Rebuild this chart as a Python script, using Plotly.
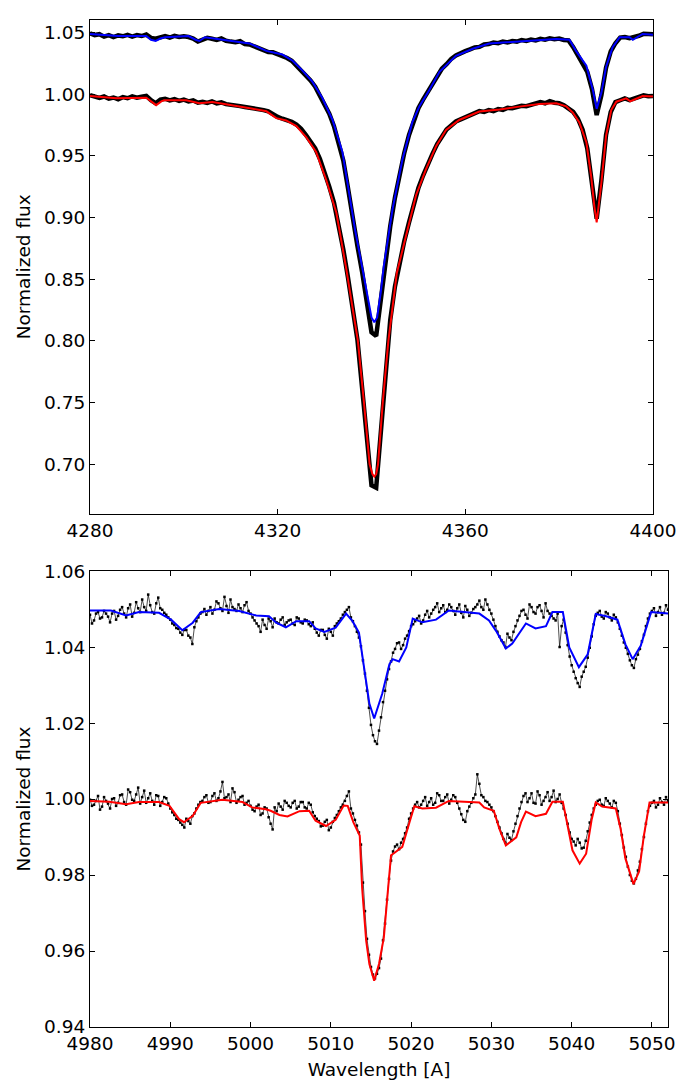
import numpy as np
import plotly.graph_objects as go

# ---------------- Top panel (H gamma region) ----------------
top_obs_start = 4280.0  # observed spectra sampled every 1 A
top_obs_upper = [
    1.0492, 1.0478, 1.0485, 1.0465, 1.0478, 1.0462, 1.0475, 1.0468, 1.0480, 1.0465,
    1.0478, 1.0470, 1.0482, 1.0455, 1.0448, 1.0460, 1.0470, 1.0458, 1.0472, 1.0462,
    1.0468, 1.0462, 1.0450, 1.0425, 1.0440, 1.0455, 1.0448, 1.0438, 1.0450, 1.0432,
    1.0425, 1.0420, 1.0428, 1.0405, 1.0402, 1.0385, 1.0368, 1.0358, 1.0340, 1.0338,
    1.0322, 1.0315, 1.0292, 1.0270, 1.0232, 1.0195, 1.0152, 1.0110, 1.0060, 0.9990,
    0.9915, 0.9840, 0.9740, 0.9615, 0.9460, 0.9235, 0.8990, 0.8770, 0.8560, 0.8300,
    0.8070, 0.8040, 0.8330, 0.8660, 0.8930, 0.9160, 0.9345, 0.9525, 0.9668, 0.9792,
    0.9885, 0.9955, 1.0015, 1.0085, 1.0150, 1.0205, 1.0242, 1.0285, 1.0312, 1.0335,
    1.0348, 1.0362, 1.0378, 1.0382, 1.0402, 1.0405, 1.0418, 1.0412, 1.0425, 1.0418,
    1.0430, 1.0425, 1.0438, 1.0430, 1.0442, 1.0435, 1.0448, 1.0440, 1.0452, 1.0445,
    1.0450, 1.0438, 1.0435, 1.0380, 1.0315, 1.0262, 1.0180, 1.0040, 0.9830, 0.9990,
    1.0215, 1.0345, 1.0412, 1.0458, 1.0462, 1.0452, 1.0458, 1.0472, 1.0488, 1.0482,
    1.0485,
]
top_obs_lower = [
    0.9990, 0.9975, 0.9968, 0.9980, 0.9962, 0.9972, 0.9958, 0.9975, 0.9966, 0.9982,
    0.9970, 0.9978, 0.9985, 0.9950, 0.9925, 0.9955, 0.9962, 0.9948, 0.9958, 0.9944,
    0.9955, 0.9940, 0.9948, 0.9930, 0.9938, 0.9928, 0.9940, 0.9925, 0.9932, 0.9918,
    0.9915, 0.9908, 0.9902, 0.9895, 0.9890, 0.9885, 0.9875, 0.9870, 0.9860, 0.9835,
    0.9815, 0.9800, 0.9792, 0.9775, 0.9752, 0.9718, 0.9670, 0.9622, 0.9560, 0.9475,
    0.9370, 0.9250, 0.9120, 0.8950, 0.8740, 0.8510, 0.8270, 0.8010, 0.7620, 0.7180,
    0.6830, 0.6810, 0.7260, 0.7720, 0.8170, 0.8440, 0.8650, 0.8810, 0.8960, 0.9110,
    0.9240, 0.9340, 0.9440, 0.9515, 0.9595, 0.9655, 0.9712, 0.9745, 0.9778, 0.9795,
    0.9812, 0.9832, 0.9845, 0.9862, 0.9855, 0.9870, 0.9862, 0.9878, 0.9872, 0.9888,
    0.9885, 0.9898, 0.9905, 0.9902, 0.9915, 0.9920, 0.9935, 0.9925, 0.9942, 0.9930,
    0.9925, 0.9910, 0.9885, 0.9855, 0.9800, 0.9710, 0.9560, 0.9270, 0.8990, 0.9300,
    0.9670, 0.9855, 0.9935, 0.9950, 0.9965, 0.9950, 0.9962, 0.9978, 0.9990, 0.9982,
    0.9985,
]

top_model_upper_wl = [
    4280, 4286, 4292, 4293, 4294, 4295, 4296, 4301, 4302.5, 4303.3, 4304.5, 4310.4,
    4314, 4317.6, 4321, 4323.2, 4325.3, 4327.4, 4329.5, 4331.7, 4333.8, 4335.1,
    4336.5, 4338.0, 4339.3, 4340.0, 4340.6, 4341.2, 4342.0, 4342.6, 4344.5, 4346.6,
    4348.7, 4350.2, 4352.3, 4354.5, 4358, 4361.6, 4365.1, 4368.7, 4372.2, 4375.8,
    4379.4, 4382.2, 4383.6, 4385.8, 4387.2, 4388.0, 4389.0, 4390.0, 4391.4, 4392.9,
    4395.0, 4395.7, 4396.5, 4397.8, 4400,
]
top_model_upper = [
    1.0487, 1.047, 1.047, 1.044, 1.043, 1.045, 1.046, 1.047, 1.044, 1.043, 1.046, 1.043,
    1.041, 1.035, 1.032, 1.027, 1.019, 1.010, 0.997, 0.979, 0.953, 0.923,
    0.890, 0.860, 0.832, 0.819, 0.815, 0.819, 0.840, 0.860, 0.907, 0.947,
    0.977, 0.990, 1.003, 1.018, 1.031, 1.0367, 1.041, 1.042, 1.043, 1.044,
    1.0447, 1.044, 1.035, 1.023, 1.003, 0.988, 1.001, 1.022, 1.038, 1.046,
    1.046, 1.044, 1.046, 1.0487, 1.048,
]
top_model_lower_wl = [
    4280, 4285.6, 4292, 4293, 4294.1, 4295.2, 4295.8, 4300.5, 4303.3, 4306.1, 4310.4,
    4314.7, 4317.6, 4319.7, 4321.8, 4324, 4326.1, 4328.2, 4330.3, 4332.5, 4334.6,
    4335.8, 4337.1, 4338.4, 4339.6, 4340.2, 4340.6, 4341.0, 4341.4, 4342.4, 4343.6,
    4345.4, 4347.4, 4349.5, 4351.6, 4353.8, 4355.9, 4358.7, 4363, 4367.3, 4371.5,
    4375.8, 4379.4, 4381.5, 4382.9, 4384.3, 4385.8, 4386.8, 4387.5, 4388.0, 4389.0,
    4390.0, 4391.1, 4392.2, 4394.3, 4395.2, 4395.7, 4397.8, 4400,
]
top_model_lower = [
    0.9984, 0.9965, 0.997, 0.994, 0.991, 0.994, 0.995, 0.995, 0.9925, 0.9935, 0.991,
    0.988, 0.986, 0.9805, 0.9786, 0.974, 0.965, 0.953, 0.931, 0.904, 0.859,
    0.832, 0.800, 0.750, 0.700, 0.692, 0.690, 0.692, 0.700, 0.750, 0.800,
    0.855, 0.885, 0.918, 0.939, 0.958, 0.971, 0.979, 0.9858, 0.9875, 0.9898,
    0.992, 0.9925, 0.990, 0.985, 0.977, 0.961, 0.934, 0.909, 0.896, 0.928,
    0.966, 0.987, 0.9938, 0.9965, 0.994, 0.995, 0.9984, 0.998,
]

# ---------------- Bottom panel (He I 5016 region) ----------------
# observed spectra: set "a" at 4980.0 + 0.5*i, set "b" at 4980.25 + 0.5*i
bot_obs_start = 4980.0
bot_obs_upper_a = [
    1.0485, 1.0470, 1.0492, 1.0478, 1.0488, 1.0465, 1.0495, 1.0482, 1.0505, 1.0478,
    1.0512, 1.0490, 1.0502, 1.0525, 1.0495, 1.0510, 1.0488, 1.0530, 1.0498, 1.0485,
    1.0472, 1.0458, 1.0448, 1.0432, 1.0445, 1.0425, 1.0452, 1.0478, 1.0492, 1.0485,
    1.0505, 1.0498, 1.0515, 1.0495, 1.0508, 1.0525, 1.0500, 1.0512, 1.0492, 1.0518,
    1.0488, 1.0470, 1.0455, 1.0472, 1.0448, 1.0468, 1.0475, 1.0462, 1.0478, 1.0465,
    1.0472, 1.0458, 1.0475, 1.0462, 1.0470, 1.0455, 1.0448, 1.0430, 1.0445, 1.0422,
    1.0440, 1.0455, 1.0468, 1.0485, 1.0498, 1.0478, 1.0455, 1.0425, 1.0365, 1.0285,
    1.0195, 1.0152, 1.0180, 1.0255, 1.0315, 1.0362, 1.0395, 1.0412, 1.0405, 1.0430,
    1.0455, 1.0468, 1.0482, 1.0470, 1.0495, 1.0488, 1.0505, 1.0492, 1.0510, 1.0498,
    1.0505, 1.0485, 1.0512, 1.0478, 1.0498, 1.0490, 1.0505, 1.0522, 1.0498, 1.0512,
    1.0488, 1.0455, 1.0428, 1.0412, 1.0435, 1.0418, 1.0455, 1.0482, 1.0498, 1.0475,
    1.0505, 1.0488, 1.0510, 1.0478, 1.0495, 1.0482, 1.0470, 1.0400, 1.0472, 1.0405,
    1.0352, 1.0318, 1.0295, 1.0335, 1.0372, 1.0428, 1.0482, 1.0495, 1.0475, 1.0488,
    1.0470, 1.0478, 1.0448, 1.0412, 1.0382, 1.0352, 1.0368, 1.0395, 1.0432, 1.0475,
    1.0495, 1.0482, 1.0505, 1.0490, 1.0498,
]
bot_obs_upper_b = [
    1.0462, 1.0488, 1.0475, 1.0495, 1.0480, 1.0488, 1.0472, 1.0498, 1.0488, 1.0502,
    1.0480, 1.0518, 1.0492, 1.0505, 1.0538, 1.0492, 1.0515, 1.0502, 1.0490, 1.0478,
    1.0462, 1.0450, 1.0438, 1.0445, 1.0430, 1.0408, 1.0468, 1.0488, 1.0500, 1.0495,
    1.0488, 1.0520, 1.0502, 1.0532, 1.0490, 1.0505, 1.0495, 1.0502, 1.0510, 1.0495,
    1.0478, 1.0462, 1.0440, 1.0458, 1.0475, 1.0452, 1.0465, 1.0472, 1.0458, 1.0470,
    1.0462, 1.0478, 1.0465, 1.0472, 1.0460, 1.0465, 1.0438, 1.0445, 1.0432, 1.0448,
    1.0430, 1.0462, 1.0475, 1.0492, 1.0505, 1.0468, 1.0440, 1.0402, 1.0330, 1.0240,
    1.0168, 1.0145, 1.0215, 1.0285, 1.0342, 1.0385, 1.0410, 1.0395, 1.0422, 1.0442,
    1.0460, 1.0475, 1.0462, 1.0485, 1.0478, 1.0498, 1.0515, 1.0502, 1.0492, 1.0512,
    1.0495, 1.0502, 1.0490, 1.0508, 1.0482, 1.0500, 1.0512, 1.0505, 1.0525, 1.0498,
    1.0472, 1.0440, 1.0418, 1.0400, 1.0425, 1.0440, 1.0470, 1.0495, 1.0485, 1.0512,
    1.0492, 1.0505, 1.0495, 1.0515, 1.0488, 1.0475, 1.0488, 1.0455, 1.0438, 1.0375,
    1.0335, 1.0305, 1.0322, 1.0348, 1.0398, 1.0460, 1.0490, 1.0480, 1.0492, 1.0478,
    1.0485, 1.0465, 1.0430, 1.0398, 1.0365, 1.0345, 1.0380, 1.0415, 1.0455, 1.0488,
    1.0502, 1.0492, 1.0485, 1.0510,
]
bot_obs_lower_a = [
    0.9998, 0.9985, 1.0008, 0.9980, 0.9995, 0.9975, 1.0002, 0.9990, 1.0012, 0.9985,
    1.0018, 0.9995, 1.0030, 1.0005, 0.9990, 1.0015, 0.9985, 1.0008, 0.9992, 1.0002,
    0.9975, 0.9958, 0.9945, 0.9932, 0.9948, 0.9935, 0.9962, 0.9985, 0.9995, 1.0010,
    0.9992, 1.0015, 1.0002, 1.0045, 1.0005, 0.9992, 1.0018, 0.9998, 1.0008, 0.9990,
    0.9982, 0.9968, 0.9985, 0.9962, 0.9975, 0.9935, 0.9978, 0.9988, 0.9972, 0.9990,
    0.9978, 0.9995, 0.9980, 0.9992, 0.9975, 0.9985, 0.9955, 0.9942, 0.9930, 0.9945,
    0.9925, 0.9950, 0.9968, 0.9985, 1.0008, 0.9975, 0.9945, 0.9912, 0.9780, 0.9632,
    0.9558, 0.9528, 0.9555, 0.9628, 0.9735, 0.9838, 0.9875, 0.9868, 0.9895, 0.9925,
    0.9962, 0.9985, 0.9978, 0.9995, 0.9982, 1.0002, 0.9990, 1.0010, 0.9995, 1.0012,
    0.9998, 1.0005, 0.9975, 0.9945, 0.9968, 0.9990, 1.0012, 1.0040, 1.0005, 0.9992,
    0.9978, 0.9955, 0.9925, 0.9895, 0.9908, 0.9892, 0.9935, 0.9975, 1.0008, 0.9992,
    1.0015, 0.9988, 1.0010, 0.9995, 1.0018, 1.0005, 0.9992, 1.0012, 0.9975, 0.9935,
    0.9895, 0.9878, 0.9885, 0.9872, 0.9915, 0.9958, 0.9985, 0.9998, 0.9982, 0.9995,
    0.9978, 0.9990, 0.9935, 0.9872, 0.9822, 0.9785, 0.9790, 0.9835, 0.9900, 0.9968,
    0.9990, 0.9978, 1.0002, 0.9985, 0.9995,
]
bot_obs_lower_b = [
    0.9982, 0.9995, 0.9972, 1.0005, 0.9988, 1.0000, 0.9982, 1.0010, 0.9992, 1.0025,
    0.9998, 1.0012, 0.9988, 1.0022, 1.0002, 0.9995, 1.0010, 0.9982, 1.0005, 0.9988,
    0.9965, 0.9948, 0.9938, 0.9925, 0.9942, 0.9955, 0.9975, 0.9992, 1.0005, 0.9990,
    1.0008, 0.9995, 1.0020, 1.0002, 1.0012, 1.0028, 0.9990, 1.0005, 0.9985, 0.9995,
    0.9972, 0.9980, 0.9958, 0.9978, 0.9952, 0.9920, 0.9968, 0.9980, 0.9995, 0.9982,
    0.9990, 0.9975, 0.9992, 0.9978, 0.9990, 0.9965, 0.9948, 0.9928, 0.9940, 0.9918,
    0.9940, 0.9958, 0.9978, 0.9995, 1.0020, 0.9962, 0.9930, 0.9880, 0.9705, 0.9590,
    0.9538, 0.9540, 0.9580, 0.9672, 0.9790, 0.9862, 0.9880, 0.9885, 0.9910, 0.9948,
    0.9975, 0.9992, 0.9985, 1.0005, 0.9992, 0.9985, 1.0015, 0.9995, 1.0005, 0.9988,
    1.0010, 0.9990, 0.9960, 0.9940, 0.9980, 1.0002, 1.0065, 1.0010, 0.9995, 0.9985,
    0.9968, 0.9940, 0.9910, 0.9885, 0.9898, 0.9915, 0.9955, 0.9992, 1.0015, 1.0002,
    0.9990, 1.0020, 0.9985, 1.0005, 0.9995, 1.0022, 1.0000, 0.9990, 0.9958, 0.9912,
    0.9888, 0.9895, 0.9870, 0.9890, 0.9938, 0.9975, 0.9995, 0.9985, 1.0002, 0.9988,
    0.9995, 0.9968, 0.9905, 0.9848, 0.9800, 0.9778, 0.9812, 0.9868, 0.9935, 0.9982,
    0.9995, 0.9985, 0.9992, 1.0005,
]

bot_model_upper_wl = [
    4980, 4982.6, 4984.5, 4986.1, 4988.6, 4990.1, 4991.5, 4992.8, 4993.8, 4996.1,
    4998.6, 4999.4, 5000.7, 5002.3, 5003.2, 5004.4, 5005.7, 5007.3, 5008.1, 5009.2,
    5010.6, 5011.9, 5012.7, 5013.5, 5014.4, 5014.8, 5015.4, 5016.4, 5017.3, 5017.7,
    5018.5, 5019.4, 5020.2, 5021.4, 5023.1, 5024.7, 5028.5, 5029.7, 5030.6, 5031.8,
    5032.6, 5034.3, 5035.5, 5036.8, 5037.6, 5038.9, 5039.7, 5040.9, 5042.0, 5043.0,
    5044.3, 5045.7, 5046.7, 5047.6, 5048.6, 5049.9, 5052,
]
bot_model_upper = [
    1.0496, 1.0496, 1.0483, 1.0492, 1.0490, 1.0472, 1.0444, 1.0464, 1.0492, 1.0500,
    1.0495, 1.0490, 1.0483, 1.0481, 1.0464, 1.0452, 1.0468, 1.0468, 1.0449, 1.0440,
    1.0451, 1.0488, 1.0468, 1.0438, 1.0312, 1.0251, 1.0212, 1.0277, 1.0355, 1.0368,
    1.0362, 1.0399, 1.0475, 1.0465, 1.0472, 1.0496, 1.0488, 1.0470, 1.0442, 1.0396,
    1.0409, 1.0462, 1.0449, 1.0455, 1.0492, 1.0492, 1.0399, 1.0347, 1.0381, 1.0487,
    1.0481, 1.0472, 1.0407, 1.0368, 1.0403, 1.0492, 1.0488,
]
bot_model_lower_wl = [
    4980, 4982.4, 4984.5, 4986.1, 4988.6, 4989.9, 4991.1, 4991.7, 4992.8, 4993.8,
    4996.5, 4999.0, 5000.2, 5001.9, 5002.5, 5003.6, 5004.6, 5006.1, 5007.3, 5008.1,
    5009.4, 5010.6, 5011.6, 5012.1, 5012.8, 5013.6, 5013.9, 5014.4, 5014.8, 5015.4,
    5016.0, 5016.6, 5017.1, 5017.5, 5017.9, 5018.9, 5019.8, 5020.4, 5021.4, 5023.1,
    5024.7, 5028.5, 5029.1, 5030.3, 5031.0, 5031.8, 5033.1, 5033.7, 5034.3, 5035.5,
    5036.8, 5037.6, 5038.9, 5039.5, 5040.1, 5041.0, 5041.8, 5042.5, 5043.0, 5043.8,
    5045.5, 5046.1, 5046.7, 5047.7, 5048.4, 5049.0, 5049.7, 5052,
]
bot_model_lower = [
    0.9995, 0.9993, 0.9986, 0.9992, 0.9992, 0.9982, 0.9947, 0.9939, 0.9956, 0.9990,
    0.9998, 0.9992, 0.9978, 0.9973, 0.9969, 0.9958, 0.9954, 0.9968, 0.9969, 0.9943,
    0.9929, 0.9945, 0.9983, 0.9982, 0.9939, 0.9904, 0.9765, 0.9627, 0.9566, 0.9522,
    0.9566, 0.9635, 0.9757, 0.9852, 0.9858, 0.9874, 0.9939, 0.9981, 0.9975, 0.9977,
    0.9995, 0.9991, 0.9978, 0.9969, 0.9921, 0.9878, 0.9899, 0.9939, 0.9967, 0.9955,
    0.9961, 0.9993, 0.9993, 0.9930, 0.9865, 0.9830, 0.9856, 0.9947, 0.9991, 0.9980,
    0.9975, 0.9921, 0.9843, 0.9776, 0.9809, 0.9904, 0.9991, 0.9991,
]

top_x_ticks = [4280, 4320, 4360, 4400]
top_y_ticks = [0.70, 0.75, 0.80, 0.85, 0.90, 0.95, 1.00, 1.05]
bot_x_ticks = [4980, 4990, 5000, 5010, 5020, 5030, 5040, 5050]
bot_y_ticks = [0.94, 0.96, 0.98, 1.00, 1.02, 1.04, 1.06]

# ------------------------------------------------------------
top_wl = top_obs_start + 1.0 * np.arange(len(top_obs_upper))


def interleave(a, b):
    wl_a = bot_obs_start + 0.5 * np.arange(len(a))
    wl_b = bot_obs_start + 0.25 + 0.5 * np.arange(len(b))
    wl = np.concatenate([wl_a, wl_b])
    fl = np.concatenate([np.asarray(a), np.asarray(b)])
    order = np.argsort(wl)
    return wl[order], fl[order]


bot_wl_u, bot_fl_u = interleave(bot_obs_upper_a, bot_obs_upper_b)
bot_wl_l, bot_fl_l = interleave(bot_obs_lower_a, bot_obs_lower_b)

FONT = "DejaVu Sans"
FS = 18.5
fig = go.Figure()

# top panel
for obs in (top_obs_upper, top_obs_lower):
    fig.add_trace(go.Scatter(x=top_wl, y=obs, mode="lines",
                             line=dict(color="black", width=4.5),
                             xaxis="x", yaxis="y", hoverinfo="skip"))
fig.add_trace(go.Scatter(x=top_model_upper_wl, y=top_model_upper, mode="lines",
                         line=dict(color="#0000ff", width=2), xaxis="x", yaxis="y"))
fig.add_trace(go.Scatter(x=top_model_lower_wl, y=top_model_lower, mode="lines",
                         line=dict(color="#ff0000", width=2), xaxis="x", yaxis="y"))

# bottom panel
for wl, fl in ((bot_wl_u, bot_fl_u), (bot_wl_l, bot_fl_l)):
    fig.add_trace(go.Scatter(x=wl, y=fl, mode="lines+markers",
                             line=dict(color="black", width=0.7),
                             marker=dict(color="black", size=2.5, symbol="square"),
                             xaxis="x2", yaxis="y2", hoverinfo="skip"))
fig.add_trace(go.Scatter(x=bot_model_upper_wl, y=bot_model_upper, mode="lines",
                         line=dict(color="#0000ff", width=2), xaxis="x2", yaxis="y2"))
fig.add_trace(go.Scatter(x=bot_model_lower_wl, y=bot_model_lower, mode="lines",
                         line=dict(color="#ff0000", width=2), xaxis="x2", yaxis="y2"))

axis_common = dict(showline=True, linecolor="black", linewidth=1, mirror="ticks",
                   ticks="inside", ticklen=5, tickwidth=1, tickcolor="black",
                   showgrid=False, zeroline=False,
                   tickfont=dict(family=FONT, size=FS, color="black"))

fig.update_layout(
    width=688, height=1076,
    margin=dict(l=82, r=28, t=1, b=57),
    paper_bgcolor="white", plot_bgcolor="white",
    showlegend=False,
    font=dict(family=FONT, size=FS, color="black"),
    xaxis=dict(domain=[0, 0.974], range=[4280, 4400], tickvals=top_x_ticks,
               anchor="y", **axis_common),
    yaxis=dict(domain=[0.5098, 1.0], range=[0.66, 1.06], tickvals=top_y_ticks,
               tickformat=".2f", anchor="x",
               title=dict(text="Normalized flux", standoff=8,
                          font=dict(family=FONT, size=FS)),
               **axis_common),
    xaxis2=dict(domain=[0, 1.0], range=[4980, 5052], tickvals=bot_x_ticks,
                anchor="y2",
                title=dict(text="Wavelength [A]", standoff=9,
                           font=dict(family=FONT, size=FS)),
                **axis_common),
    yaxis2=dict(domain=[0, 0.4528], range=[0.94, 1.06], tickvals=bot_y_ticks,
                tickformat=".2f", anchor="x2",
                title=dict(text="Normalized flux", standoff=8,
                           font=dict(family=FONT, size=FS)),
                **axis_common),
)

fig.write_html("out.html")
